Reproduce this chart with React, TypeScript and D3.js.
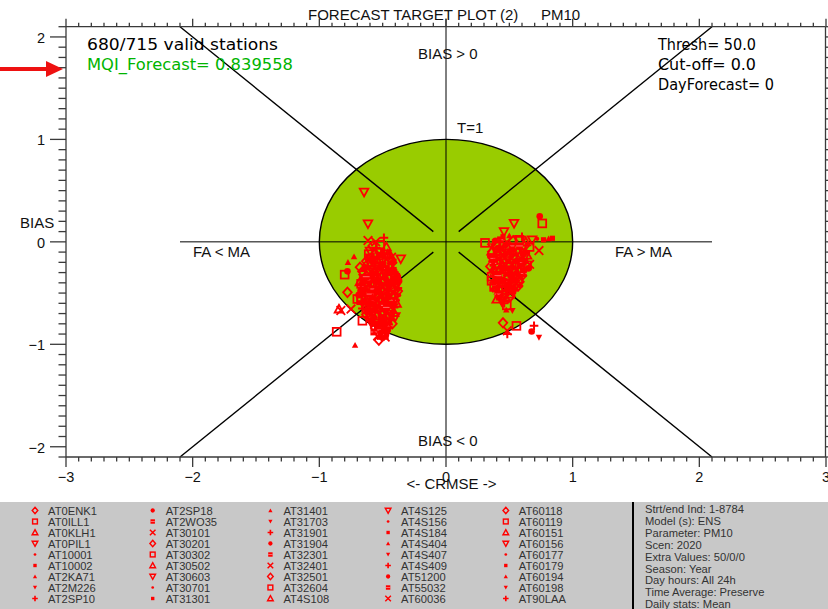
import React from "react";
import * as d3 from "d3";

const W = 828;
const H = 609;

// ---- axis setup -------------------------------------------------------
const xDomain: [number, number] = [-3, 3];
const yDomain: [number, number] = [-2.1, 2.1];
const xTickValues = [-3, -2, -1, 0, 1, 2, 3];
const yTickValues = [-2, -1, 0, 1, 2];
const minorStep = 0.1;
const targetRadius = 1;
const guideExtent = 2.1;
const guideInner = 0.1;

// ---- texts -------------------------------------------------------------
const plotTitle = "FORECAST TARGET PLOT (2)";
const plotParam = "PM10";
const validStations = "680/715 valid stations";
const mqiLabel = "MQI_Forecast= 0.839558";
const settingLines = ["Thresh= 50.0", "Cut-off= 0.0", "DayForecast= 0"];
const runInfo = [
  "Strt/end Ind: 1-8784",
  "Model (s): ENS",
  "Parameter: PM10",
  "Scen: 2020",
  "Extra Values: 50/0/0",
  "Season: Year",
  "Day hours: All 24h",
  "Time Average: Preserve",
  "Daily stats: Mean",
];
const stations = [
  "AT0ENK1", "AT0ILL1", "AT0KLH1", "AT0PIL1", "AT10001", "AT10002", "AT2KA71", "AT2M226", "AT2SP10",
  "AT2SP18", "AT2WO35", "AT30101", "AT30201", "AT30302", "AT30502", "AT30603", "AT30701", "AT31301",
  "AT31401", "AT31703", "AT31901", "AT31904", "AT32301", "AT32401", "AT32501", "AT32604", "AT4S108",
  "AT4S125", "AT4S156", "AT4S184", "AT4S404", "AT4S407", "AT4S409", "AT51200", "AT55032", "AT60036",
  "AT60118", "AT60119", "AT60151", "AT60156", "AT60177", "AT60179", "AT60194", "AT60198", "AT90LAA",
];

// ---- station results: [CRMSE-signed, BIAS] (normalised) ---------------
// FA < MA group
const leftGroup: [number, number][] = [
  [-0.58, -0.04], [-0.52, -0.03], [-0.47, -0.05],
  [-0.60, -0.09], [-0.55, -0.10], [-0.50, -0.08], [-0.45, -0.10],
  [-0.62, -0.14], [-0.57, -0.15], [-0.53, -0.13], [-0.48, -0.14], [-0.43, -0.15],
  [-0.63, -0.19], [-0.59, -0.20], [-0.54, -0.18], [-0.50, -0.19], [-0.45, -0.21], [-0.41, -0.19],
  [-0.64, -0.24], [-0.60, -0.25], [-0.56, -0.23], [-0.51, -0.24], [-0.47, -0.26], [-0.42, -0.24],
  [-0.66, -0.29], [-0.61, -0.30], [-0.57, -0.28], [-0.53, -0.29], [-0.48, -0.31], [-0.44, -0.29], [-0.39, -0.30],
  [-0.67, -0.34], [-0.62, -0.35], [-0.58, -0.33], [-0.54, -0.34], [-0.50, -0.36], [-0.45, -0.34], [-0.40, -0.35],
  [-0.68, -0.39], [-0.63, -0.40], [-0.59, -0.38], [-0.55, -0.39], [-0.51, -0.41], [-0.46, -0.39], [-0.41, -0.40], [-0.37, -0.38],
  [-0.67, -0.44], [-0.63, -0.45], [-0.58, -0.43], [-0.54, -0.44], [-0.50, -0.46], [-0.45, -0.44], [-0.40, -0.45],
  [-0.68, -0.49], [-0.64, -0.50], [-0.59, -0.48], [-0.55, -0.49], [-0.51, -0.51], [-0.47, -0.49], [-0.42, -0.50], [-0.38, -0.48],
  [-0.67, -0.54], [-0.62, -0.55], [-0.58, -0.53], [-0.53, -0.54], [-0.49, -0.56], [-0.44, -0.54], [-0.39, -0.55],
  [-0.66, -0.59], [-0.61, -0.60], [-0.57, -0.58], [-0.52, -0.59], [-0.48, -0.61], [-0.43, -0.59], [-0.39, -0.60],
  [-0.64, -0.64], [-0.60, -0.65], [-0.55, -0.63], [-0.51, -0.64], [-0.46, -0.66], [-0.41, -0.64],
  [-0.62, -0.69], [-0.58, -0.70], [-0.54, -0.68], [-0.49, -0.69], [-0.45, -0.71], [-0.41, -0.69],
  [-0.60, -0.74], [-0.56, -0.75], [-0.52, -0.73], [-0.47, -0.74], [-0.43, -0.76],
  [-0.58, -0.79], [-0.54, -0.80], [-0.50, -0.78], [-0.46, -0.79],
  [-0.56, -0.84], [-0.52, -0.85], [-0.48, -0.83],
  [-0.54, -0.89], [-0.50, -0.88], [-0.47, -0.90],
  [-0.52, -0.93], [-0.49, -0.94],
  [-0.55, -0.06], [-0.50, -0.12], [-0.58, -0.17], [-0.47, -0.17], [-0.62, -0.22], [-0.53, -0.21],
  [-0.44, -0.23], [-0.59, -0.27], [-0.50, -0.27], [-0.41, -0.27], [-0.64, -0.32], [-0.56, -0.31],
  [-0.47, -0.32], [-0.42, -0.37], [-0.60, -0.37], [-0.52, -0.38], [-0.65, -0.42], [-0.56, -0.41],
  [-0.48, -0.42], [-0.39, -0.43], [-0.61, -0.47], [-0.53, -0.46], [-0.44, -0.47], [-0.66, -0.52],
  [-0.56, -0.51], [-0.46, -0.52], [-0.41, -0.57], [-0.60, -0.57], [-0.50, -0.57], [-0.63, -0.62],
  [-0.54, -0.61], [-0.45, -0.62], [-0.58, -0.67], [-0.48, -0.67], [-0.56, -0.72], [-0.44, -0.73],
  [-0.50, -0.76], [-0.53, -0.82], [-0.45, -0.82], [-0.51, -0.91],
  [-0.56, -0.12], [-0.51, -0.16], [-0.46, -0.12], [-0.60, -0.21], [-0.56, -0.26], [-0.49, -0.22], [-0.43, -0.20],
  [-0.63, -0.27], [-0.54, -0.27], [-0.46, -0.28], [-0.40, -0.32], [-0.60, -0.32], [-0.52, -0.32], [-0.43, -0.36],
  [-0.65, -0.37], [-0.57, -0.36], [-0.48, -0.37], [-0.39, -0.40], [-0.61, -0.42], [-0.53, -0.42], [-0.44, -0.42],
  [-0.66, -0.47], [-0.57, -0.46], [-0.48, -0.47], [-0.40, -0.47], [-0.63, -0.52], [-0.53, -0.51], [-0.44, -0.51],
  [-0.37, -0.52], [-0.64, -0.57], [-0.55, -0.56], [-0.46, -0.57], [-0.41, -0.61], [-0.58, -0.61], [-0.49, -0.62],
  [-0.62, -0.66], [-0.53, -0.66], [-0.44, -0.67], [-0.60, -0.71], [-0.51, -0.71], [-0.43, -0.72], [-0.58, -0.76],
  [-0.49, -0.75], [-0.45, -0.77], [-0.56, -0.81], [-0.48, -0.80], [-0.54, -0.86], [-0.50, -0.86], [-0.49, -0.91],
  [-0.61, -0.12], [-0.44, -0.13], [-0.57, -0.20], [-0.52, -0.23], [-0.65, -0.27], [-0.43, -0.26], [-0.59, -0.30],
  [-0.50, -0.31], [-0.38, -0.34], [-0.63, -0.34], [-0.55, -0.36], [-0.46, -0.35], [-0.67, -0.41], [-0.58, -0.40],
  [-0.49, -0.39], [-0.42, -0.42], [-0.64, -0.47], [-0.55, -0.45], [-0.46, -0.45], [-0.38, -0.45], [-0.69, -0.52],
  [-0.60, -0.51], [-0.51, -0.53], [-0.41, -0.52], [-0.67, -0.57], [-0.58, -0.56], [-0.48, -0.58], [-0.38, -0.57],
  [-0.62, -0.61], [-0.53, -0.62], [-0.44, -0.60], [-0.66, -0.65], [-0.56, -0.66], [-0.47, -0.64], [-0.42, -0.66],
  [-0.63, -0.71], [-0.55, -0.72], [-0.47, -0.71], [-0.40, -0.73], [-0.61, -0.77], [-0.52, -0.77], [-0.44, -0.79],
  [-0.59, -0.82], [-0.50, -0.82], [-0.46, -0.86], [-0.57, -0.88], [-0.48, -0.93], [-0.53, -0.96],
];

// scattered FA < MA stations: [x, y, station number]
const leftOutliers: [number, number, number][] = [
  [-0.647, 0.485, 3], [-0.616, 0.176, 15], [-0.616, 0.013, 11], [-0.49, 0.04, 8], [-0.555, 0.0, 23],
  [-0.726, -0.144, 6], [-0.774, -0.2, 18], [-0.80, -0.32, 1], [-0.778, -0.288, 9], [-0.679, -0.248, 0],
  [-0.357, -0.166, 27], [-0.778, -0.493, 12], [-0.70, -0.558, 13], [-0.83, -0.67, 35], [-0.75, -0.656, 11],
  [-0.845, -0.656, 2], [-0.66, -0.77, 25], [-0.863, -0.878, 37], [-0.718, -1.008, 30], [-0.423, -0.80, 24],
  [-0.49, -0.907, 1], [-0.54, -0.917, 23],
];

// FA > MA group
const rightGroup: [number, number][] = [
  [0.45, 0.05], [0.50, 0.06], [0.55, 0.04], [0.60, 0.05],
  [0.39, 0.01], [0.43, 0.02], [0.48, 0.00], [0.53, 0.01], [0.58, 0.02], [0.63, 0.00], [0.68, 0.02], [0.72, 0.03], [0.77, 0.02], [0.81, 0.03],
  [0.37, -0.04], [0.42, -0.05], [0.47, -0.03], [0.52, -0.04], [0.57, -0.06], [0.62, -0.04], [0.66, -0.05],
  [0.36, -0.09], [0.41, -0.10], [0.45, -0.08], [0.50, -0.09], [0.55, -0.11], [0.59, -0.09], [0.63, -0.10],
  [0.35, -0.14], [0.40, -0.15], [0.44, -0.13], [0.49, -0.14], [0.53, -0.16], [0.58, -0.14], [0.62, -0.15],
  [0.35, -0.19], [0.39, -0.20], [0.44, -0.18], [0.48, -0.19], [0.53, -0.21], [0.57, -0.19], [0.61, -0.20], [0.66, -0.22],
  [0.35, -0.24], [0.40, -0.25], [0.44, -0.23], [0.49, -0.24], [0.53, -0.26], [0.58, -0.24], [0.62, -0.25],
  [0.36, -0.29], [0.40, -0.30], [0.45, -0.28], [0.49, -0.29], [0.54, -0.31], [0.58, -0.29],
  [0.36, -0.34], [0.40, -0.35], [0.45, -0.33], [0.50, -0.34], [0.54, -0.36], [0.59, -0.34],
  [0.37, -0.39], [0.41, -0.40], [0.46, -0.38], [0.50, -0.39], [0.55, -0.41], [0.58, -0.39],
  [0.38, -0.44], [0.42, -0.45], [0.47, -0.43], [0.51, -0.44], [0.55, -0.46],
  [0.40, -0.49], [0.44, -0.50], [0.48, -0.48], [0.53, -0.49],
  [0.42, -0.54], [0.46, -0.55], [0.51, -0.53],
  [0.40, -0.02], [0.49, -0.06], [0.60, -0.07], [0.38, -0.12], [0.47, -0.11], [0.56, -0.12],
  [0.42, -0.17], [0.51, -0.17], [0.60, -0.17], [0.37, -0.21], [0.46, -0.22], [0.55, -0.22],
  [0.64, -0.23], [0.42, -0.27], [0.51, -0.27], [0.60, -0.27], [0.38, -0.32], [0.47, -0.31],
  [0.56, -0.32], [0.43, -0.37], [0.52, -0.37], [0.39, -0.42], [0.48, -0.41], [0.57, -0.43],
  [0.45, -0.47], [0.50, -0.51], [0.44, -0.58], [0.49, -0.58],
  [0.44, -0.06], [0.54, -0.07], [0.39, -0.11], [0.52, -0.12], [0.61, -0.12], [0.37, -0.16], [0.46, -0.16], [0.55, -0.16],
  [0.41, -0.21], [0.50, -0.22], [0.59, -0.22], [0.38, -0.26], [0.47, -0.26], [0.56, -0.27], [0.63, -0.28], [0.43, -0.31],
  [0.52, -0.32], [0.61, -0.31], [0.38, -0.36], [0.48, -0.36], [0.57, -0.36], [0.44, -0.41], [0.53, -0.42], [0.40, -0.46],
  [0.49, -0.46], [0.43, -0.52], [0.48, -0.53], [0.46, -0.60],
  [0.41, -0.06], [0.58, -0.04], [0.36, -0.06], [0.42, -0.13], [0.50, -0.11], [0.64, -0.13], [0.37, -0.18], [0.50, -0.20],
  [0.63, -0.19], [0.36, -0.27], [0.45, -0.25], [0.55, -0.25], [0.65, -0.26], [0.41, -0.33], [0.50, -0.30], [0.60, -0.33],
  [0.36, -0.38], [0.45, -0.39], [0.54, -0.39], [0.41, -0.43], [0.50, -0.42], [0.58, -0.42], [0.37, -0.47], [0.47, -0.47],
  [0.53, -0.45], [0.41, -0.51], [0.51, -0.50], [0.44, -0.55], [0.48, -0.62], [0.40, -0.56],
];

// scattered FA > MA stations: [x, y, station number]
const rightOutliers: [number, number, number][] = [
  [0.74, 0.25, 21], [0.76, 0.18, 13], [0.537, 0.18, 27], [0.458, 0.10, 3], [0.308, -0.01, 1],
  [0.84, 0.035, 29], [0.734, -0.085, 11], [0.476, -0.665, 30], [0.524, -0.672, 43], [0.45, -0.79, 36],
  [0.556, -0.82, 25], [0.484, -0.868, 35], [0.484, -0.90, 44], [0.695, -0.82, 32], [0.676, -0.875, 33],
  [0.734, -0.933, 31],
];

// ---- scales ------------------------------------------------------------
const x = d3.scaleLinear().domain(xDomain).range([66, 826]);
const y = d3.scaleLinear().domain(yDomain).range([457, 26.7]);

const RED = "#ff0000";

// Twelve marker kinds cycled over the station list
function Marker({ kind, cx, cy, s = 1 }: { kind: number; cx: number; cy: number; s?: number }) {
  const k = ((kind % 12) + 12) % 12;
  const a = 4.3 * s;
  const sw = 1.8 * Math.max(s, 0.8);
  switch (k) {
    case 0:
      return <path d={`M${cx},${cy - a - 0.4}L${cx + a},${cy}L${cx},${cy + a + 0.4}L${cx - a},${cy}Z`} fill="none" stroke={RED} strokeWidth={sw} />;
    case 1:
      return <rect x={cx - a + 0.4} y={cy - a + 0.4} width={2 * a - 0.8} height={2 * a - 0.8} fill="none" stroke={RED} strokeWidth={sw} />;
    case 2:
      return <path d={`M${cx},${cy - a}L${cx + a},${cy + a * 0.8}L${cx - a},${cy + a * 0.8}Z`} fill="none" stroke={RED} strokeWidth={sw} />;
    case 3:
      return <path d={`M${cx},${cy + a}L${cx + a},${cy - a * 0.8}L${cx - a},${cy - a * 0.8}Z`} fill="none" stroke={RED} strokeWidth={sw} />;
    case 4:
      return <circle cx={cx} cy={cy} r={2.1 * s} fill={RED} />;
    case 5:
      return <rect x={cx - 2.6 * s} y={cy - 2.6 * s} width={5.2 * s} height={5.2 * s} fill={RED} />;
    case 6: {
      const b = a * 0.75;
      return <path d={`M${cx},${cy - b}L${cx + b},${cy + b * 0.8}L${cx - b},${cy + b * 0.8}Z`} fill={RED} />;
    }
    case 7: {
      const b = a * 0.75;
      return <path d={`M${cx},${cy + b}L${cx + b},${cy - b * 0.8}L${cx - b},${cy - b * 0.8}Z`} fill={RED} />;
    }
    case 8:
      return <path d={`M${cx - a},${cy}H${cx + a}M${cx},${cy - a}V${cy + a}`} stroke={RED} strokeWidth={sw + 0.2} />;
    case 9:
      return <circle cx={cx} cy={cy} r={3.3 * s} fill={RED} />;
    case 10:
      return (
        <g>
          <rect x={cx - 3.4 * s} y={cy - 3.4 * s} width={6.8 * s} height={6.8 * s} fill={RED} />
          <path d={`M${cx - 3.4 * s},${cy}H${cx + 3.4 * s}`} stroke="#ffb0b0" strokeWidth={0.6} />
        </g>
      );
    default:
      return <path d={`M${cx - a},${cy - a}L${cx + a},${cy + a}M${cx + a},${cy - a}L${cx - a},${cy + a}`} stroke={RED} strokeWidth={sw} />;
  }
}

export default function App() {
  const left = x(xDomain[0]);
  const right = x(xDomain[1]) - 0.5;
  const top = y(yDomain[1]);
  const bottom = y(yDomain[0]);

  const xMinor = d3.range(xDomain[0], xDomain[1] + 1e-6, minorStep);
  const yMinor = d3.range(-2.1, 2.1 + 1e-6, minorStep);
  const axisColor = "#3a3a3a";
  const sans = "'Liberation Sans', Arial, sans-serif";
  const mono = "'DejaVu Sans', sans-serif";

  const signs: [number, number][] = [[-1, 1], [1, 1], [-1, -1], [1, -1]];

  return (
    <svg
      width={W}
      height={H}
      viewBox={`0 0 ${W} ${H}`}
      style={{ position: "absolute", left: 0, top: 0, background: "#ffffff", display: "block" }}
    >
      <rect x={0} y={0} width={W} height={H} fill="#ffffff" />

      {/* target circle T=1 */}
      <ellipse
        cx={x(0)}
        cy={y(0)}
        rx={x(targetRadius) - x(0)}
        ry={y(0) - y(targetRadius)}
        fill="#99cc00"
        stroke="#000"
        strokeWidth={1.4}
      />

      {/* guide lines */}
      <line x1={x(-guideExtent)} x2={x(guideExtent)} y1={y(0)} y2={y(0)} stroke="#000" strokeWidth={1} />
      <line x1={x(0)} x2={x(0)} y1={top - 8} y2={bottom} stroke="#000" strokeWidth={1} />
      {signs.map(([sx, sy], i) => (
        <line
          key={i}
          x1={x(sx * guideInner)}
          y1={y(sy * guideInner)}
          x2={x(sx * guideExtent)}
          y2={y(sy * guideExtent)}
          stroke="#000"
          strokeWidth={1.4}
        />
      ))}

      {/* stations */}
      <g>
        {leftGroup.map(([px, py], i) => (
          <Marker key={`l${i}`} kind={i} cx={x(px)} cy={y(py)} />
        ))}
        {rightGroup.map(([px, py], i) => (
          <Marker key={`r${i}`} kind={i + 5} cx={x(px)} cy={y(py)} />
        ))}
        {leftOutliers.map(([px, py, k], i) => (
          <Marker key={`lo${i}`} kind={k} cx={x(px)} cy={y(py)} />
        ))}
        {rightOutliers.map(([px, py, k], i) => (
          <Marker key={`ro${i}`} kind={k} cx={x(px)} cy={y(py)} />
        ))}
      </g>

      {/* frame */}
      <g stroke={axisColor} strokeWidth={1.3} fill="none">
        <line x1={left} x2={left} y1={top} y2={bottom} />
        <line x1={right} x2={right} y1={top} y2={bottom} />
        <line x1={left} x2={right} y1={top} y2={top} />
        <line x1={left} x2={right} y1={bottom} y2={bottom} />
        {xMinor.map((v, i) => {
          const major = Math.abs(v - Math.round(v)) < 1e-6;
          return (
            <g key={`xm${i}`}>
              <line x1={x(v)} x2={x(v)} y1={bottom} y2={bottom + (major ? 10 : 4.5)} />
              <line x1={x(v)} x2={x(v)} y1={top} y2={top - (major ? 8 : 4)} />
            </g>
          );
        })}
        {yMinor.map((v, i) => {
          const major = Math.abs(v - Math.round(v)) < 1e-6;
          return (
            <g key={`ym${i}`}>
              <line x1={left} x2={left - (major ? 16 : 7.5)} y1={y(v)} y2={y(v)} />
              <line x1={right} x2={right + (major ? 10 : 5)} y1={y(v)} y2={y(v)} />
            </g>
          );
        })}
      </g>

      {/* tick labels */}
      <g fontFamily={sans} fontSize={14.5} fill="#111">
        {xTickValues.map((v) => (
          <text key={`xt${v}`} x={x(v)} y={482} textAnchor="middle">
            {d3.format("d")(v)}
          </text>
        ))}
        {yTickValues.map((v) => (
          <text key={`yt${v}`} x={45} y={y(v) + 6} textAnchor="end">
            {d3.format("d")(v)}
          </text>
        ))}
      </g>

      {/* titles and region labels */}
      <g fontFamily={sans} fontSize={15} fill="#111">
        <text x={308} y={20}>{plotTitle}</text>
        <text x={541} y={20}>{plotParam}</text>
        <text x={418} y={58.5}>BIAS &gt; 0</text>
        <text x={457} y={133}>T=1</text>
        <text x={20} y={227.5}>BIAS</text>
        <text x={193} y={257}>FA &lt; MA</text>
        <text x={615} y={257}>FA &gt; MA</text>
        <text x={418} y={446}>BIAS &lt; 0</text>
        <text x={406.5} y={488.5}>&lt;- CRMSE -&gt;</text>
      </g>

      {/* statistics */}
      <g fontFamily={mono} fontSize={15.5}>
        <text x={87} y={50} fill="#000" textLength={191} lengthAdjust="spacingAndGlyphs">{validStations}</text>
        <text x={87} y={70} fill="#00b400" textLength={206} lengthAdjust="spacingAndGlyphs">{mqiLabel}</text>
        {settingLines.map((t, i) => (
          <text key={t} x={658} y={50 + i * 20} fill="#000" textLength={[98, 98, 116][i]} lengthAdjust="spacingAndGlyphs">
            {t}
          </text>
        ))}
      </g>

      {/* pointer arrow */}
      <g fill="#ee1111" stroke="none">
        <rect x={0} y={67} width={48} height={4} />
        <path d="M46,61L63,69L46,77Z" />
      </g>

      {/* station legend */}
      <rect x={0} y={502} width={W} height={H - 502} fill="#c8c8c8" />
      <g fontFamily={sans} fontSize={11.2} fill="#333">
        {stations.map((name, i) => {
          const col = Math.floor(i / 9);
          const row = i % 9;
          const sx = 35 + col * 117.7;
          const sy = 510.5 + row * 11;
          return (
            <g key={name}>
              <Marker kind={i} cx={sx} cy={sy} s={0.65} />
              <text x={sx + 13} y={sy + 4}>{name}</text>
            </g>
          );
        })}
      </g>
      <line x1={633} x2={633} y1={502} y2={H} stroke="#000" strokeWidth={2} />
      <g fontFamily={sans} fontSize={11.2} fill="#333">
        {runInfo.map((t, i) => (
          <text key={t} x={645} y={513 + i * 11.9}>{t}</text>
        ))}
      </g>
    </svg>
  );
}
